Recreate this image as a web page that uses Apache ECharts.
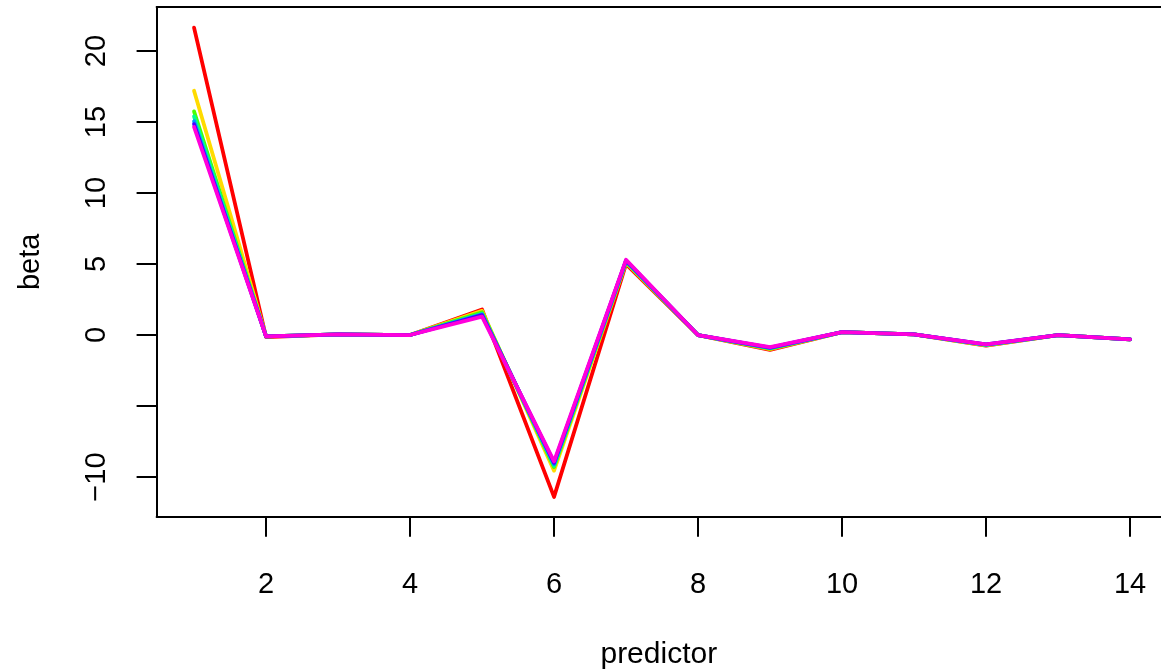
<!DOCTYPE html>
<html>
<head>
<meta charset="utf-8">
<script src="https://cdn.jsdelivr.net/npm/echarts@6/dist/echarts.min.js"></script>
<style>html,body{margin:0;padding:0;background:#fff}#c{width:1161px;height:672px}</style>
</head>
<body>
<div id="c"></div>
<script>
const predictors = [1,2,3,4,5,6,7,8,9,10,11,12,13,14];
const seriesNames = ['s1','s2','s3','s4','s5','s6','s7'];
const colors = ['#FF0000','#FFDB00','#49FF00','#00FF92','#0092FF','#4900FF','#FF00DB'];
const beta1 = [21.65,-0.15,0.05,0.0,1.8,-11.4,5.0,0.0,-1.05,0.2,0.05,-0.75,0.0,-0.3];
const beta2 = [17.2,-0.1,0.05,0.0,1.7,-9.55,5.1,0.0,-1.0,0.2,0.05,-0.72,0.0,-0.3];
const beta3 = [15.75,-0.1,0.05,0.0,1.6,-9.3,5.15,0.0,-0.95,0.2,0.05,-0.7,0.0,-0.3];
const beta4 = [15.4,-0.1,0.05,0.0,1.5,-9.2,5.2,0.0,-0.92,0.2,0.05,-0.7,0.0,-0.3];
const beta5 = [15.05,-0.1,0.05,0.0,1.45,-9.1,5.22,0.0,-0.9,0.2,0.05,-0.68,0.0,-0.3];
const beta6 = [14.85,-0.1,0.05,0.0,1.4,-9.0,5.25,0.0,-0.88,0.2,0.05,-0.66,0.0,-0.3];
const beta7 = [14.65,-0.1,0.05,0.0,1.3,-8.9,5.3,0.0,-0.85,0.2,0.05,-0.65,0.0,-0.3];
const xTicks = [2,4,6,8,10,12,14];
const yTicks = [-10,-5,0,5,10,15,20];
const yLabels = [-10,0,5,10,15,20];

const allBeta = [beta1,beta2,beta3,beta4,beta5,beta6,beta7];
const font = 'Liberation Sans, Arial, Helvetica, sans-serif';
const axisLineStyle = {color:'#000', width:2};
const chart = echarts.init(document.getElementById('c'), null, {renderer:'canvas'});
chart.setOption({
  animation:false,
  backgroundColor:'#fff',
  grid:{left:156.6, top:7, right:0, height:509.8, show:false, outerBoundsMode:'none', containLabel:false},
  xAxis:[{
    type:'value', min:0.48, max:14.43,
    name:'predictor', nameLocation:'middle', nameGap:123,
    nameTextStyle:{fontFamily:font, fontSize:30, color:'#000'},
    splitLine:{show:false},
    axisLine:{show:true, onZero:false, lineStyle:axisLineStyle},
    axisTick:{show:true, length:20, lineStyle:axisLineStyle, customValues:xTicks},
    axisLabel:{fontFamily:font, fontSize:29, color:'#000', margin:54, customValues:xTicks}
  },{
    type:'value', position:'top', min:0.48, max:14.43,
    splitLine:{show:false},
    axisLine:{show:true, onZero:false, lineStyle:axisLineStyle},
    axisTick:{show:false}, axisLabel:{show:false}
  }],
  yAxis:{
    type:'value', min:-12.8, max:23.1,
    name:'beta', nameLocation:'middle', nameGap:111, nameRotate:90,
    nameTextStyle:{fontFamily:font, fontSize:29, color:'#000'},
    splitLine:{show:false},
    axisLine:{show:true, onZero:false, lineStyle:axisLineStyle},
    axisTick:{show:true, length:20, lineStyle:axisLineStyle, customValues:yTicks},
    axisLabel:{fontFamily:font, fontSize:29, color:'#000', margin:45, rotate:90, customValues:yLabels,
      formatter:v=> v<0 ? '\u2212'+Math.abs(v) : String(v)}
  },
  series: allBeta.map((b,i)=>({
    name:seriesNames[i], type:'line', showSymbol:false, symbol:'none',
    data: predictors.map((x,j)=>[x,b[j]]),
    lineStyle:{color:colors[i], width:3.8, cap:'round', join:'round'},
    itemStyle:{color:colors[i]},
    z:2+i
  }))
});
</script>
</body>
</html>
